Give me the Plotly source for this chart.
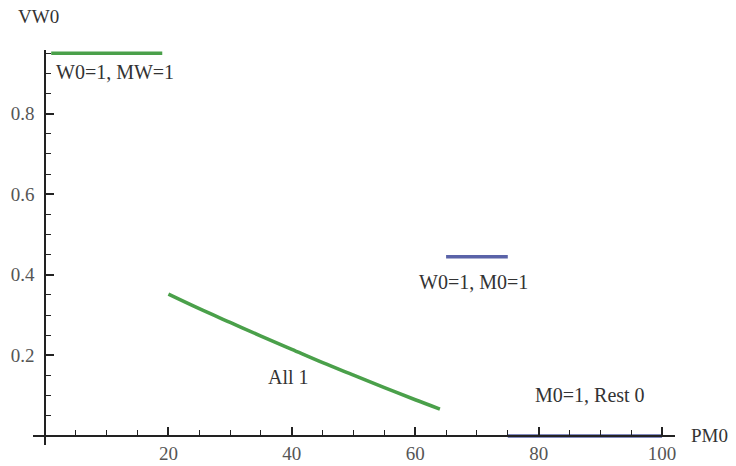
import plotly.graph_objects as go

# ---- data ----
top_x = [1, 19]
top_y = [0.95, 0.95]

mid_x = [65, 75]
mid_y = [0.445, 0.445]

bot_x = [75, 100]
bot_y = [0.0, 0.0]

curve_x = [20, 25, 30, 35, 40, 45, 50, 55, 60, 64]
curve_y = [0.352, 0.316, 0.282, 0.248, 0.215, 0.182, 0.151, 0.120, 0.090, 0.067]

x_ticks = [20, 40, 60, 80, 100]
y_ticks = [0.2, 0.4, 0.6, 0.8]

labels_text = ["W0=1, MW=1", "W0=1, M0=1", "All 1", "M0=1, Rest 0"]
labels_x = [11.3, 69.5, 39.4, 88.3]
labels_y = [0.903, 0.382, 0.146, 0.102]

GREEN = "#4aa04a"
BLUE = "#5a63a8"
FONT = "Liberation Serif"

x_range = [-1.95, 102.1]
y_range = [-0.0223, 0.958]

fig = go.Figure()
fig.add_trace(go.Scatter(x=top_x, y=top_y, mode="lines", line=dict(color=GREEN, width=3.5)))
fig.add_trace(go.Scatter(x=curve_x, y=curve_y, mode="lines", line=dict(color=GREEN, width=3.5, shape="spline")))
fig.add_trace(go.Scatter(x=mid_x, y=mid_y, mode="lines", line=dict(color=BLUE, width=3.5)))
fig.add_trace(go.Scatter(x=bot_x, y=bot_y, mode="lines", line=dict(color=BLUE, width=3.5), cliponaxis=False))

for t, x, y in zip(labels_text, labels_x, labels_y):
    fig.add_annotation(x=x, y=y, text=t, showarrow=False,
                       font=dict(family=FONT, size=20, color="#333333"))

fig.add_annotation(xref="paper", yref="paper", x=0.0078, y=1.084, text="VW0", showarrow=False,
                   xanchor="center", yanchor="middle",
                   font=dict(family=FONT, size=19, color="#333333"))
fig.add_annotation(xref="paper", yref="paper", x=1.0545, y=0.0228, text="PM0", showarrow=False,
                   xanchor="center", yanchor="middle",
                   font=dict(family=FONT, size=19, color="#333333"))

x0_frac = (0 - y_range[0]) / (y_range[1] - y_range[0])
y0_frac = (0 - x_range[0]) / (x_range[1] - x_range[0])

fig.update_layout(
    width=736, height=466,
    margin=dict(l=33, r=61, t=50, b=21, autoexpand=False),
    paper_bgcolor="white", plot_bgcolor="white",
    showlegend=False,
    xaxis=dict(range=x_range, domain=[0, 1], anchor="free", position=x0_frac, automargin=False,
               showgrid=False, zeroline=False, showline=True, linecolor="#222222", linewidth=1.6,
               tickmode="array", tickvals=x_ticks, ticks="inside", ticklen=8, tickwidth=1.6,
               tickcolor="#222222",
               minor=dict(tickmode="linear", tick0=0, dtick=5, ticks="inside", ticklen=5,
                          tickwidth=1.3, tickcolor="#222222"),
               tickfont=dict(family=FONT, size=19, color="#555555"), ticklabelstandoff=0),
    yaxis=dict(range=y_range, domain=[0, 1], anchor="free", position=y0_frac, automargin=False,
               showgrid=False, zeroline=False, showline=True, linecolor="#222222", linewidth=1.6,
               tickmode="array", tickvals=y_ticks, ticks="inside", ticklen=8, tickwidth=1.6,
               tickcolor="#222222",
               minor=dict(tickmode="linear", tick0=0, dtick=0.05, ticks="inside", ticklen=5,
                          tickwidth=1.3, tickcolor="#222222"),
               tickfont=dict(family=FONT, size=19, color="#555555"), ticklabelstandoff=6),
)

fig.write_html("out.html", config={"displayModeBar": False},
               post_script="document.body.style.margin='0';document.body.style.overflow='hidden';")
